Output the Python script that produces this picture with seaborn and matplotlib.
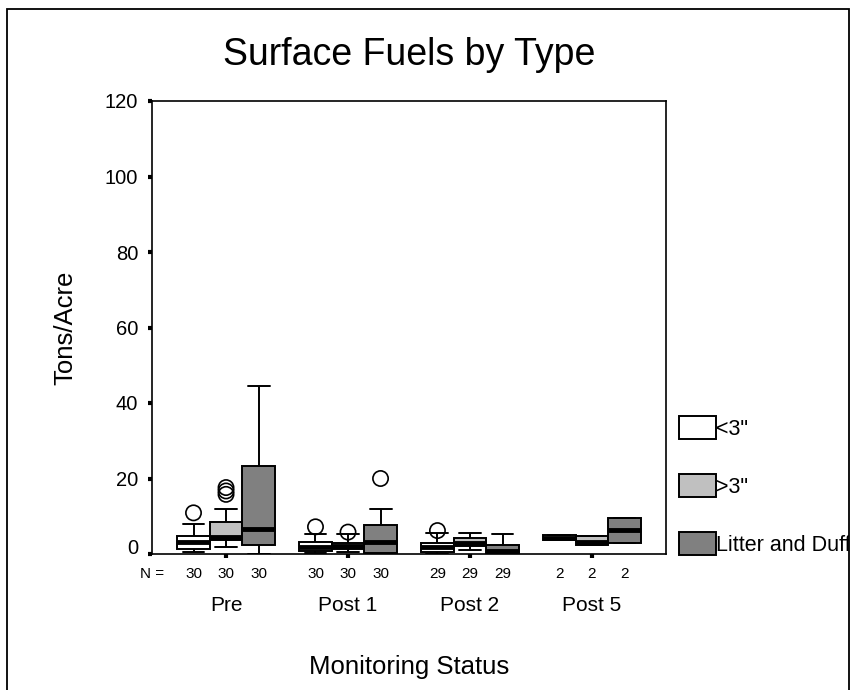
import matplotlib
matplotlib.use("Agg")
import matplotlib.pyplot as plt
import numpy as np
import pandas as pd
import seaborn as sns
from matplotlib.patches import Patch, Rectangle
from matplotlib.transforms import ScaledTranslation, Bbox, TransformedBbox

# ---- data -----------------------------------------------------------------
statuses = ["Pre", "Post 1", "Post 2", "Post 5"]
fuel_types = ['<3"', '>3"', "Litter and Duff"]
n_counts = [30, 30, 29, 2]          # cases per monitoring status (all fuel types)

# five-number summaries per fuel type, one value per monitoring status
small_lo = [0.4, 0.2, 0.1, 3.7]
small_q1 = [1.3, 0.9, 0.6, 3.7]
small_med = [3.3, 1.9, 1.8, 4.3]
small_q3 = [4.8, 3.3, 3.0, 5.0]
small_hi = [8.0, 5.2, 5.6, 5.0]

large_lo = [1.9, 0.4, 1.0, 2.3]
large_q1 = [3.7, 1.3, 2.2, 2.3]
large_med = [4.6, 2.0, 3.0, 3.1]
large_q3 = [8.6, 2.9, 4.3, 4.7]
large_hi = [12.0, 5.2, 5.5, 4.7]

litter_lo = [0.0, 0.0, 0.0, 2.8]
litter_q1 = [2.4, 0.2, 0.2, 2.8]
litter_med = [6.6, 3.2, 0.8, 6.3]
litter_q3 = [23.4, 7.7, 2.4, 9.6]
litter_hi = [44.5, 12.0, 5.2, 9.6]

# outlying cases
outlier_status = ["Pre", "Pre", "Pre", "Pre", "Post 1", "Post 1", "Post 1", "Post 2"]
outlier_type = ['<3"', '>3"', '>3"', '>3"', '<3"', '>3"', "Litter and Duff", '<3"']
outlier_value = [10.9, 17.6, 16.7, 15.8, 7.2, 5.8, 20.0, 6.2]

fill_colors = {'<3"': "#FFFFFF", '>3"': "#C0C0C0", "Litter and Duff": "#808080"}

# ---- tidy frames ----------------------------------------------------------
summaries = {
    '<3"': [small_lo, small_q1, small_med, small_q3, small_hi],
    '>3"': [large_lo, large_q1, large_med, large_q3, large_hi],
    "Litter and Duff": [litter_lo, litter_q1, litter_med, litter_q3, litter_hi],
}
rows = []
for ftype in fuel_types:
    for k, status in enumerate(statuses):
        for stat in summaries[ftype]:
            rows.append({"status": status, "type": ftype, "value": stat[k]})
box_df = pd.DataFrame(rows)
out_df = pd.DataFrame({"status": outlier_status, "type": outlier_type,
                       "value": outlier_value})

# ---- figure ---------------------------------------------------------------
sns.set_style("white")
plt.rcParams["font.family"] = ["Liberation Sans", "DejaVu Sans"]
plt.rcParams["text.color"] = "black"
plt.rcParams["axes.labelcolor"] = "black"
plt.rcParams["xtick.color"] = "black"
plt.rcParams["ytick.color"] = "black"

W, H = 858, 690
fig = plt.figure(figsize=(W / 100, H / 100), dpi=100)
ax = fig.add_axes([152 / W, 1 - 554 / H, 514 / W, 453 / H])

sns.boxplot(data=box_df, x="status", y="value", hue="type",
            order=statuses, hue_order=fuel_types, palette=fill_colors,
            whis=(0, 100), width=0.8, gap=0, linecolor="black", linewidth=1.4,
            medianprops=dict(color="black", linewidth=3.5, solid_capstyle="butt"),
            capwidths=0.18, showfliers=False, legend=False, ax=ax)

n_before = len(ax.collections)
sns.stripplot(data=out_df, x="status", y="value", hue="type",
              order=statuses, hue_order=fuel_types, palette=fill_colors,
              dodge=True, jitter=False, marker="o", size=11, linewidth=1.2,
              edgecolor="black", legend=False, ax=ax, zorder=5)
for coll in ax.collections[n_before:]:
    coll.set_facecolor("none")

ax.set_xlim(-0.607, 3.607)
ax.set_ylim(0, 120)
ax.set_yticks(np.arange(0, 121, 20))
ax.set_xlabel("")
ax.set_ylabel("")
for sp in ax.spines.values():
    sp.set_visible(True)
    sp.set_color("black")
    sp.set_linewidth(1.2)

ax.tick_params(axis="y", left=True, direction="out", length=3, width=3,
               pad=7, labelsize=14.5, colors="black")
ax.tick_params(axis="x", bottom=True, direction="out", length=3, width=3,
               pad=27.5, labelsize=15, colors="black")

# the zero label sits slightly above its tick
zero_lab = ax.get_yticklabels()[0]
zero_lab.set_transform(zero_lab.get_transform()
                       + ScaledTranslation(0, 8 / 100, fig.dpi_scale_trans))

# case counts under each box
box_w = 0.8 / len(fuel_types)
for i, n in enumerate(n_counts):
    for j in range(len(fuel_types)):
        xpos = i + (j - (len(fuel_types) - 1) / 2) * box_w
        ax.annotate(str(n), xy=(xpos, 0), xycoords=("data", "axes fraction"),
                    xytext=(0, -14.5), textcoords="offset points",
                    ha="center", va="center", fontsize=11)
fig.text(152 / W, 1 - 574 / H, "N =", ha="center", va="center", fontsize=11)

fig.text(409 / W, 1 - 55 / H, "Surface Fuels by Type", ha="center",
         va="center", fontsize=27)
fig.text(65 / W, 1 - 328 / H, "Tons/Acre", ha="center", va="center",
         rotation=90, fontsize=18.5)
fig.text(409 / W, 1 - 667 / H, "Monitoring Status", ha="center",
         va="center", fontsize=18.5)

handles = [Patch(facecolor=fill_colors[t], edgecolor="black", linewidth=1.4)
           for t in fuel_types]
leg = fig.legend(handles, fuel_types, loc="upper left",
                 bbox_to_anchor=(679 / W, 1 - 416 / H), frameon=False,
                 fontsize=15.5, handlelength=1.72, handleheight=1.27,
                 handletextpad=0, labelspacing=1.6, borderpad=0,
                 borderaxespad=0)
clip = TransformedBbox(Bbox([[0, 0], [849 / W, 1]]), fig.transFigure)
for txt in leg.get_texts():
    txt.set_clip_box(clip)
    txt.set_clip_on(True)

# outer frame around the chart
fig.add_artist(Rectangle((7 / W, -0.05), (849 - 7) / W, 1.05 - 9 / H,
                         transform=fig.transFigure, fill=False,
                         edgecolor="black", linewidth=1.3))

fig.savefig("out.png", dpi=100)
